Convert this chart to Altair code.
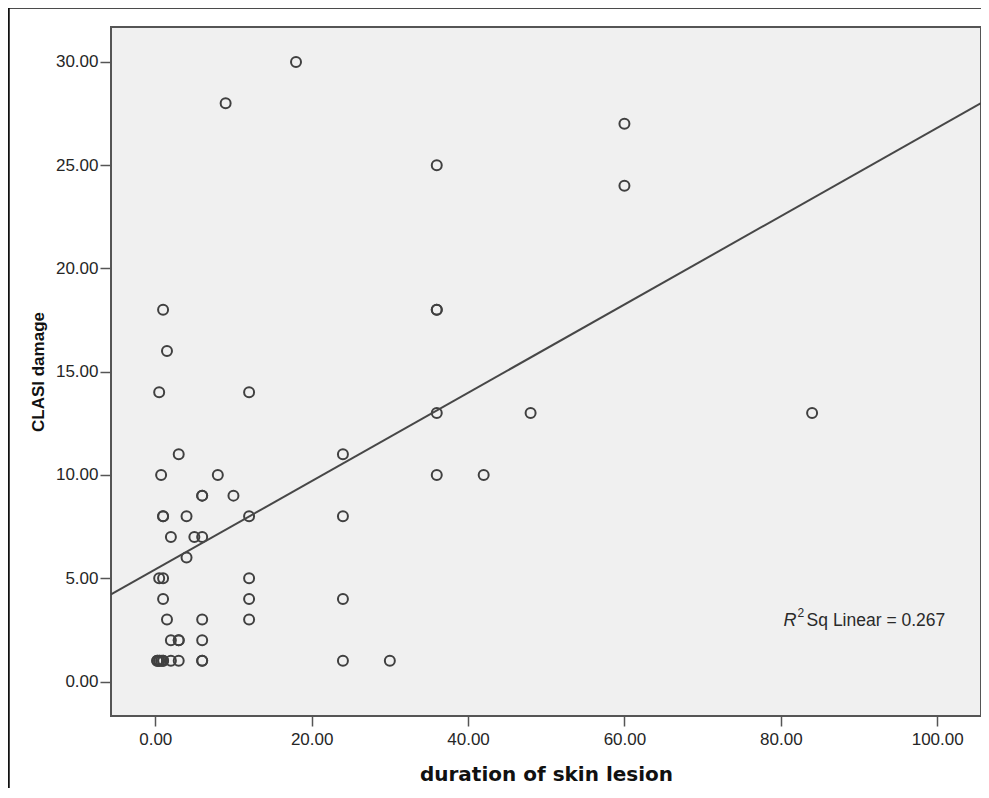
import altair as alt
import pandas as pd

# ---- data ----
duration = [18, 9, 60, 60, 36, 1, 36, 36, 1.5, 0.5, 12, 36, 48, 84, 3, 24, 0.75, 8, 36, 42,
            6, 6, 10, 1, 1, 4, 12, 24, 2, 5, 6, 4, 0.5, 1, 12, 1, 12, 24, 1.5, 6,
            12, 2, 3, 3, 6, 0.25, 0.5, 0.75, 1, 2, 3, 6, 6, 24, 30, 0.25, 0.5, 1]
clasi = [30, 28, 27, 24, 25, 18, 18, 18, 16, 14, 14, 13, 13, 13, 11, 11, 10, 10, 10, 10,
         9, 9, 9, 8, 8, 8, 8, 8, 7, 7, 7, 6, 5, 5, 5, 4, 4, 4, 3, 3,
         3, 2, 2, 2, 2, 1, 1, 1, 1, 1, 1, 1, 1, 1, 1, 1, 1, 1]

x_ticks = [0, 20, 40, 60, 80, 100]
y_ticks = [0, 5, 10, 15, 20, 25, 30]
x_domain = [-5.66, 105.6]
y_domain = [-1.67, 31.69]

r2_label = ["Sq Linear = 0.267"]
r2_x = [83.3]
r2_y = [2.95]

df = pd.DataFrame({"duration": duration, "clasi": clasi})
ann = pd.DataFrame({"x": r2_x, "y": r2_y, "t": r2_label})
frame_df = pd.DataFrame({"k": [0]})

x_enc = alt.X("duration:Q",
              scale=alt.Scale(domain=x_domain, nice=False, zero=False),
              axis=alt.Axis(values=x_ticks, format=".2f", title="duration of skin lesion",
                            tickSize=10, labelPadding=5, titlePadding=17,
                            titleFont="DejaVu Sans", titleFontSize=20, titleFontWeight="bold",
                            titleColor="#111111"))
y_enc = alt.Y("clasi:Q",
              scale=alt.Scale(domain=y_domain, nice=False, zero=False),
              axis=alt.Axis(values=y_ticks, format=".2f", title="CLASI damage",
                            tickSize=11, labelPadding=2, titlePadding=8,
                            titleFont="Liberation Sans", titleFontSize=17, titleFontWeight="bold",
                            titleColor="#111111"))

points = alt.Chart(df).mark_point(shape="circle", filled=False, size=100, strokeWidth=2,
                                  color="#404040", opacity=1).encode(x=x_enc, y=y_enc)

fit = alt.Chart(df).transform_regression(
    "duration", "clasi", extent=x_domain
).mark_line(color="#474747", strokeWidth=2).encode(
    x=alt.X("duration:Q"), y=alt.Y("clasi:Q"))

r_text = alt.Chart(ann).mark_text(text="R", font="Liberation Sans", fontSize=18,
                                  fontStyle="italic", align="right", baseline="middle",
                                  dx=-10, color="#2a2a2a").encode(x="x:Q", y="y:Q")
sup_text = alt.Chart(ann).mark_text(text="2", font="Liberation Sans", fontSize=12,
                                    align="left", baseline="middle", dx=-9, dy=-8,
                                    color="#2a2a2a").encode(x="x:Q", y="y:Q")
main_text = alt.Chart(ann).mark_text(font="Liberation Sans", fontSize=17.5, align="left",
                                     baseline="middle", color="#2a2a2a").encode(
    x="x:Q", y="y:Q", text="t:N")

outer = alt.Chart(frame_df).mark_rect(fillOpacity=0, stroke="#111111", strokeWidth=2.5).encode(
    x=alt.value(-102.5), x2=alt.value(1000), y=alt.value(-19.5), y2=alt.value(900))

chart = alt.layer(outer, points, fit, r_text, sup_text, main_text).properties(
    width=870, height=689,
    autosize=alt.AutoSizeParams(type="none"),
    padding={"left": 103, "top": 19, "right": 0, "bottom": 72},
    background="white",
).configure_view(
    fill="#f0f0f0", stroke="#555555", strokeWidth=2
).configure_axis(
    domain=False, grid=False, tickColor="#555555", tickWidth=1.5,
    labelFont="Liberation Sans", labelFontSize=17, labelColor="#262626"
)

chart.save("out.html", embed_options={"renderer": "svg", "actions": False})
